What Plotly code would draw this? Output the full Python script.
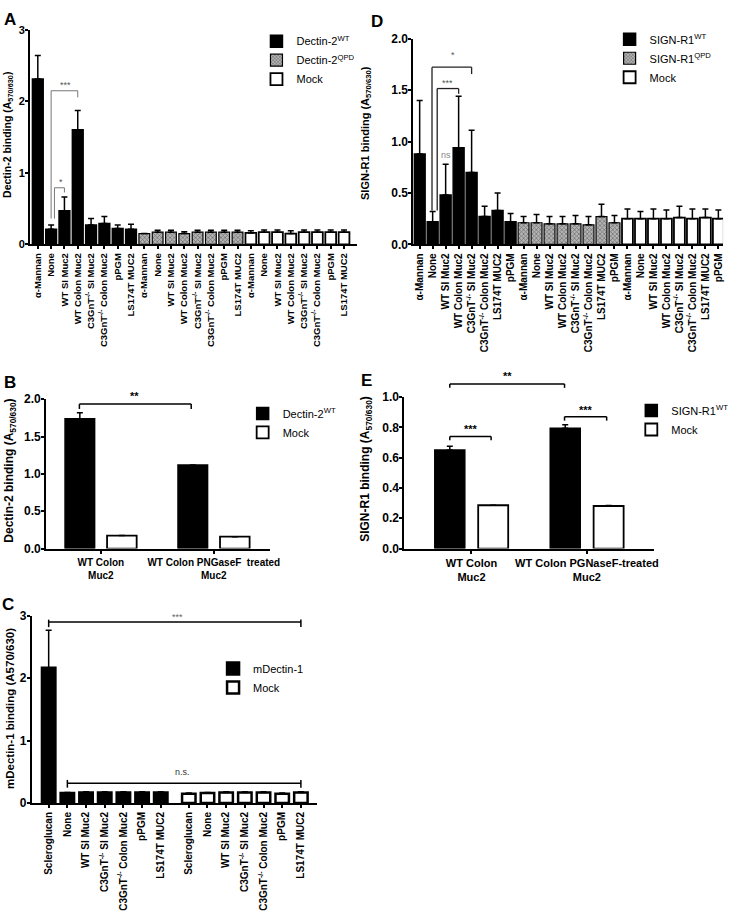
import plotly.graph_objects as go

W, H = 736, 919
FONT = "Liberation Sans, Arial, sans-serif"

# ---------------- DATA ----------------
# Panel A (Dectin-2)
A_labels = ["α-Mannan", "None", "WT SI Muc2", "WT Colon Muc2",
            "C3GnT<sup>-/-</sup> SI Muc2", "C3GnT<sup>-/-</sup> Colon Muc2", "pPGM", "LS174T MUC2"]
A_wt = [2.31, 0.21, 0.47, 1.60, 0.27, 0.29, 0.22, 0.21]
A_wt_err = [0.33, 0.06, 0.19, 0.27, 0.09, 0.10, 0.05, 0.07]
A_qpd = [0.15, 0.17, 0.17, 0.15, 0.17, 0.17, 0.17, 0.17]
A_qpd_err = [0.0, 0.025, 0.025, 0.025, 0.025, 0.025, 0.025, 0.025]
A_mock = [0.16, 0.17, 0.17, 0.15, 0.17, 0.17, 0.17, 0.17]
A_mock_err = [0.03, 0.03, 0.03, 0.04, 0.03, 0.03, 0.03, 0.03]

# Panel D (SIGN-R1)
D_labels = ["α-Mannan", "None", "WT SI Muc2", "WT Colon Muc2",
            "C3GnT<sup>-/-</sup> SI Muc2", "C3GnT<sup>-/-</sup> Colon Muc2", "LS174T MUC2", "pPGM"]
D_wt = [0.88, 0.22, 0.48, 0.94, 0.70, 0.27, 0.33, 0.22]
D_wt_err = [0.52, 0.10, 0.30, 0.50, 0.41, 0.10, 0.17, 0.08]
D_qpd = [0.21, 0.21, 0.20, 0.20, 0.20, 0.19, 0.27, 0.21]
D_qpd_err = [0.06, 0.08, 0.07, 0.07, 0.08, 0.08, 0.12, 0.07]
D_mock = [0.25, 0.25, 0.25, 0.25, 0.26, 0.25, 0.26, 0.25]
D_mock_err = [0.095, 0.07, 0.095, 0.085, 0.11, 0.095, 0.085, 0.085]

# Panel B (Dectin-2, PNGaseF)
B_labels = ["WT Colon<br>Muc2", "WT Colon PNGaseF  treated<br>Muc2"]
B_wt = [1.74, 1.12]
B_wt_err = [0.08, 0.0]
B_mock = [0.175, 0.16]
B_mock_err = [0.0, 0.0]

# Panel E (SIGN-R1, PNGaseF)
E_labels = ["WT Colon<br>Muc2", "WT Colon PGNaseF-treated<br>Muc2"]
E_wt = [0.65, 0.794]
E_wt_err = [0.025, 0.022]
E_mock = [0.286, 0.281]
E_mock_err = [0.0, 0.004]

# Panel C (mDectin-1)
C_labels = ["Scleroglucan", "None", "WT SI Muc2", "C3GnT<sup>-/-</sup> SI Muc2",
            "C3GnT<sup>-/-</sup> Colon Muc2", "pPGM", "LS174T MUC2"]
C_dectin = [2.17, 0.16, 0.17, 0.17, 0.17, 0.17, 0.17]
C_dectin_err = [0.60, 0.01, 0.01, 0.01, 0.01, 0.01, 0.01]
C_mock = [0.15, 0.16, 0.17, 0.17, 0.17, 0.15, 0.17]
C_mock_err = [0.01, 0.01, 0.01, 0.01, 0.01, 0.01, 0.01]

# ---------------- LAYOUT HELPERS ----------------
def pxx(p):
    return p / W

def pxy(p):
    return 1 - p / H

panels = {
    # name: (axis suffix, x px range, y px range (top,bottom), x range, y range)
    "A": ("", (30.5, 362), (23, 241), (-0.58, 23.98), (0, 3)),
    "D": ("2", (419, 733), (32.3, 241), (-0.49, 23.36), (0, 2)),
    "B": ("3", (46.7, 274), (398.3, 550), (-0.485, 1.5), (0, 2)),
    "E": ("4", (410, 663), (396, 550), (-0.581, 1.581), (0, 1)),
    "C": ("5", (32.3, 321.7), (618.3, 808.3), (-0.9, 14.38), (0, 3)),
}

fig = go.Figure()

BLACK = dict(color="black", line=dict(color="black", width=1.5))
WHITE = dict(color="white", line=dict(color="black", width=1.8))
HATCH = dict(color="#8a8a8a", line=dict(color="black", width=1.2),
             pattern=dict(shape="x", fgcolor="#222222", bgcolor="#b4b4b4", size=3, solidity=0.4))


def errs(arr, n):
    return dict(type="data", array=arr, arrayminus=[0] * n, symmetric=False,
                color="black", thickness=1.5, width=3, visible=True)


def add_bars(panel, xs, ys, err, marker, name, legend, width, offset=None, showlegend=True):
    suf = panels[panel][0]
    kw = {}
    if offset is not None:
        kw["offset"] = offset
    fig.add_trace(go.Bar(
        x=xs, y=ys, width=width, marker=marker, name=name,
        error_y=errs(err, len(ys)), xaxis="x" + suf, yaxis="y" + suf,
        legend=legend, showlegend=showlegend, **kw))


nA = len(A_labels)
add_bars("A", list(range(0, nA)), A_wt, A_wt_err, BLACK, "Dectin-2<sup>WT</sup>", "legend", 0.81)
add_bars("A", list(range(nA, 2 * nA)), A_qpd, A_qpd_err, HATCH, "Dectin-2<sup>QPD</sup>", "legend", 0.81)
add_bars("A", list(range(2 * nA, 3 * nA)), A_mock, A_mock_err, WHITE, "Mock", "legend", 0.81)

nD = len(D_labels)
add_bars("D", list(range(0, nD)), D_wt, D_wt_err, BLACK, "SIGN-R1<sup>WT</sup>", "legend2", 0.84)
add_bars("D", list(range(nD, 2 * nD)), D_qpd, D_qpd_err, HATCH, "SIGN-R1<sup>QPD</sup>", "legend2", 0.84)
add_bars("D", list(range(2 * nD, 3 * nD)), D_mock, D_mock_err, WHITE, "Mock", "legend2", 0.84)

bw = 0.262
add_bars("B", [0, 1], B_wt, B_wt_err, BLACK, "Dectin-2<sup>WT</sup>", "legend3", bw, offset=-0.186 - bw / 2)
add_bars("B", [0, 1], B_mock, B_mock_err, WHITE, "Mock", "legend3", bw, offset=0.186 - bw / 2)

ew = 0.26
add_bars("E", [0, 1], E_wt, E_wt_err, BLACK, "SIGN-R1<sup>WT</sup>", "legend4", ew, offset=-0.188 - ew / 2)
add_bars("E", [0, 1], E_mock, E_mock_err, WHITE, "Mock", "legend4", ew, offset=0.188 - ew / 2)

nC = len(C_labels)
C_gap = 0.5
C_x_black = list(range(nC))
C_x_mock = [nC + C_gap + i for i in range(nC)]
CB = dict(color="black", line=dict(color="black", width=2.5))
CW = dict(color="white", line=dict(color="black", width=2.5))
add_bars("C", C_x_black, C_dectin, C_dectin_err, CB, "mDectin-1", "legend5", 0.72)
add_bars("C", C_x_mock, C_mock, C_mock_err, CW, "Mock", "legend5", 0.72)

# ---------------- AXES ----------------
layout_axes = {}
xticks = {
    "A": (list(range(3 * nA)), A_labels * 3, -90, 9.5),
    "D": (list(range(3 * nD)), D_labels * 3, -90, 10),
    "B": ([0, 1], B_labels, 0, 10),
    "E": ([0, 1], E_labels, 0, 11),
    "C": (C_x_black + C_x_mock, C_labels * 2, -90, 10),
}
yticks = {
    "A": ([0, 1, 2, 3], ["0", "1", "2", "3"], 11),
    "D": ([0, 0.5, 1, 1.5, 2], ["0.0", "0.5", "1.0", "1.5", "2.0"], 12),
    "B": ([0, 0.5, 1, 1.5, 2], ["0.0", "0.5", "1.0", "1.5", "2.0"], 12),
    "E": ([0, 0.2, 0.4, 0.6, 0.8, 1.0], ["0.0", "0.2", "0.4", "0.6", "0.8", "1.0"], 12),
    "C": ([0, 1, 2, 3], ["0", "1", "2", "3"], 12),
}
for p, (suf, xpx, ypx, xr, yr) in panels.items():
    tv, tt, ang, fs = xticks[p]
    layout_axes["xaxis" + suf] = dict(
        domain=[pxx(xpx[0]), pxx(xpx[1])], range=list(xr), anchor="y" + suf,
        tickmode="array", tickvals=tv, ticktext=tt, tickangle=ang,
        tickfont=dict(family=FONT, size=fs, color="black", weight="bold"),
        ticks="outside", ticklen=3, tickwidth=1.5, tickcolor="black",
        showline=True, linewidth=2, linecolor="black", showgrid=False, zeroline=False,
        fixedrange=True)
    ytv, ytt, yfs = yticks[p]
    layout_axes["yaxis" + suf] = dict(
        domain=[pxy(ypx[1]), pxy(ypx[0])], range=list(yr), anchor="x" + suf,
        tickmode="array", tickvals=ytv, ticktext=ytt,
        tickfont=dict(family=FONT, size=yfs, color="black", weight="bold"),
        ticks="outside", ticklen=3, tickwidth=2, tickcolor="black", ticklabelstandoff=-2,
        showline=True, linewidth=2, linecolor="black", showgrid=False, zeroline=False,
        fixedrange=True)

# ---------------- BRACKETS / SIGNIFICANCE ----------------
def dom(panel, x, y):
    _, _, _, xr, yr = panels[panel]
    return (x - xr[0]) / (xr[1] - xr[0]), (y - yr[0]) / (yr[1] - yr[0])

shapes = []
annotations = []


def seg(panel, x0, y0, x1, y1, color, width):
    suf = panels[panel][0]
    a = dom(panel, x0, y0)
    b = dom(panel, x1, y1)
    shapes.append(dict(type="line", xref="x%s domain" % suf, yref="y%s domain" % suf,
                       x0=a[0], y0=a[1], x1=b[0], y1=b[1],
                       line=dict(color=color, width=width)))


def bracket(panel, x0, x1, y, lb, rb, color="black", width=1.5, top=None):
    seg(panel, x0, y, x1, y, color, width)
    t = y if top is None else top
    seg(panel, x0, t, x0, lb, color, width)
    seg(panel, x1, t, x1, rb, color, width)


def label(panel, x, y, text, size=9, color="#555555", bold=False):
    suf = panels[panel][0]
    a = dom(panel, x, y)
    annotations.append(dict(xref="x%s domain" % suf, yref="y%s domain" % suf, x=a[0], y=a[1],
                            text=text, showarrow=False, xanchor="center", yanchor="middle",
                            font=dict(family=FONT, size=size, color=color,
                                      weight="bold" if bold else "normal")))

# A
bracket("A", 1.0, 3.0, 2.146, 0.36, 2.054, color="#777777", width=1)
bracket("A", 1.25, 2.0, 0.79, 0.36, 0.725, color="#777777", width=1)
label("A", 2.1, 2.23, "***")
label("A", 1.73, 0.87, "*")
# D
bracket("D", 0.95, 4.0, 1.724, 0.33, 1.657, color="#222222", width=1.3)
bracket("D", 1.35, 3.0, 1.516, 0.33, 1.465, color="#222222", width=1.3)
label("D", 2.55, 1.84, "*")
label("D", 2.16, 1.57, "***")
label("D", 2.0, 0.87, "ns", size=9, color="#888888")
# B
bracket("B", -0.19, 0.80, 1.935, 1.87, 1.87, width=1.5)
label("B", 0.30, 2.04, "**", size=11, color="black", bold=True)
# E
bracket("E", -0.188, 0.806, 1.086, 1.06, 1.06, width=1.5)
bracket("E", -0.188, 0.17, 0.74, 0.714, 0.714, width=1.5)
bracket("E", 0.806, 1.171, 0.87, 0.844, 0.844, width=1.5)
label("E", 0.31, 1.14, "**", size=11, color="black", bold=True)
label("E", 0.0, 0.79, "***", size=11, color="black", bold=True)
label("E", 0.99, 0.915, "***", size=11, color="black", bold=True)
# C
bracket("C", 0, C_x_mock[-1], 2.90, 2.82, 2.82, width=1.5, top=2.94)
bracket("C", 1, C_x_mock[-1], 0.316, 0.246, 0.246, width=1.5, top=0.37)
label("C", 6.9, 2.99, "***", size=9, color="#666666")
label("C", 7.16, 0.49, "n.s.", size=9, color="#333333")

# ---------------- TITLES / PANEL LETTERS ----------------
def ytitle(xp, yp, text, size):
    annotations.append(dict(xref="paper", yref="paper", x=pxx(xp), y=pxy(yp), text=text,
                            textangle=-90, showarrow=False, xanchor="center", yanchor="middle",
                            font=dict(family=FONT, size=size, color="black", weight="bold")))

ytitle(8, 130, "Dectin-2 binding (A<sub>570/630</sub>)", 10.5)
ytitle(371, 128, "SIGN-R1 binding (A<sub>570/630</sub>)", 11)
ytitle(10, 471, "Dectin-2 binding (A<sub>570/630</sub>)", 12)
ytitle(371, 469, "SIGN-R1 binding (A<sub>570/630</sub>)", 12)
ytitle(10, 712, "mDectin-1 binding (A570/630)", 11.5)

for letter, xp, yp in [("A", 2, 1), ("D", 374, 3), ("B", 2, 370), ("E", 364, 368), ("C", 0, 595)]:
    annotations.append(dict(xref="paper", yref="paper", x=pxx(xp), y=pxy(yp), text=letter,
                            showarrow=False, xanchor="left", yanchor="top",
                            font=dict(family=FONT, size=17, color="black", weight="bold")))

# ---------------- LEGENDS ----------------
def leg(xp, yp, size=11):
    return dict(x=pxx(xp), y=pxy(yp), xanchor="left", yanchor="top",
                font=dict(family=FONT, size=size, color="black"),
                bgcolor="rgba(0,0,0,0)", tracegroupgap=0, itemclick=False, itemdoubleclick=False)

fig.update_layout(
    width=W, height=H, autosize=False,
    margin=dict(l=0, r=0, t=0, b=0),
    paper_bgcolor="white", plot_bgcolor="white",
    barmode="overlay",
    font=dict(family=FONT, color="black"),
    shapes=shapes, annotations=annotations,
    legend=leg(260, 20, 11),
    legend2=leg(618, 18, 11),
    legend3=leg(246, 398, 11),
    legend4=leg(640, 395, 11),
    legend5=leg(216, 657, 11),
    **layout_axes,
)

fig.write_html("out.html", config={"displayModeBar": False},
               post_script="document.body.style.margin='0';document.body.style.padding='0';")
